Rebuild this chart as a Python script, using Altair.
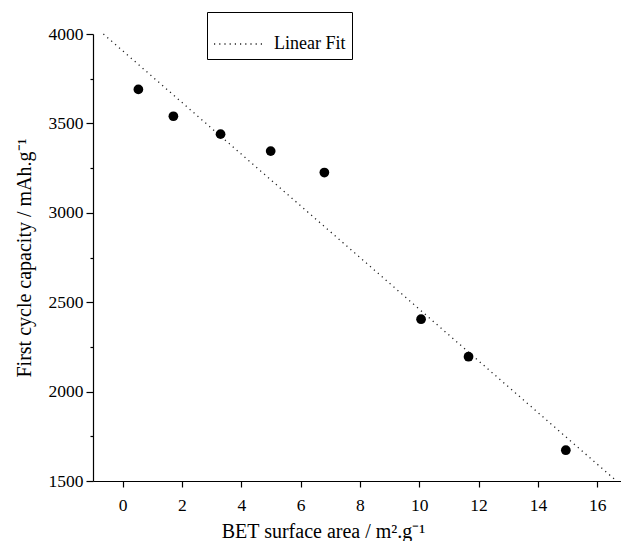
import altair as alt
import pandas as pd

# Data
bet_area = [0.53, 1.71, 3.30, 4.99, 6.80, 10.06, 11.66, 14.94]
capacity = [3690, 3540, 3440, 3345, 3225, 2405, 2195, 1672]
fit_x = [-0.65, 16.67]
fit_y = [4000, 1497]
fit_name = ["Linear Fit", "Linear Fit"]
x_ticks = list(range(0, 17))
y_ticks = list(range(1500, 4001, 250))

pts = pd.DataFrame({"x": bet_area, "y": capacity})
fit = pd.DataFrame({"x": fit_x, "y": fit_y, "s": fit_name})

FONT = "Liberation Serif"
xscale = alt.Scale(domain=[-1, 16.8], nice=False, zero=False)
yscale = alt.Scale(domain=[1500, 4000], nice=False, zero=False)

xaxis = alt.Axis(
    values=x_ticks,
    labelExpr="datum.value % 2 == 0 ? datum.label : ''",
    tickSize={"condition": {"test": "datum.value % 2 != 0", "value": 3}, "value": 6},
    title="BET surface area / m².g⁻¹",
    titleX=230,
    titlePadding=8,
    labelPadding=9,
)
yaxis = alt.Axis(
    values=y_ticks,
    format="d",
    labelExpr="datum.value % 500 == 0 ? datum.label : ''",
    tickSize={"condition": {"test": "datum.value % 500 != 0", "value": 3}, "value": 7},
    title="First cycle capacity / mAh.g⁻¹",
    titlePadding=14,
    labelPadding=3,
)

line = alt.Chart(fit).mark_line(strokeDash=[1.2, 4], strokeWidth=1.3).encode(
    x=alt.X("x:Q", scale=xscale, axis=xaxis),
    y=alt.Y("y:Q", scale=yscale, axis=yaxis),
    color=alt.Color(
        "s:N",
        scale=alt.Scale(range=["#222222"]),
        legend=alt.Legend(
            title=None,
            orient="none",
            legendX=114,
            legendY=-22,
            symbolType="stroke",
            symbolSize=2500,
            symbolStrokeWidth=1.3,
            symbolDash=[1.2, 4],
            labelFont=FONT,
            labelFontSize=18,
            labelColor="black",
            labelOffset=9,
            padding=6,
            strokeColor="black",
            fillColor="white",
        ),
    ),
)

points = alt.Chart(pts).mark_point(filled=True, color="black", opacity=1, size=95, shape="circle").encode(
    x=alt.X("x:Q", scale=xscale),
    y=alt.Y("y:Q", scale=yscale),
)

chart = (
    alt.layer(line, points)
    .properties(
        width=528,
        height=447,
        autosize=alt.AutoSizeParams(type="none"),
        padding={"left": 93, "top": 34, "right": 0, "bottom": 60},
        background="white",
    )
    .configure_view(stroke=None)
    .configure_axis(
        grid=False,
        domainColor="black",
        domainWidth=1.2,
        tickColor="black",
        tickWidth=1.2,
        labelFont=FONT,
        labelFontSize=17.5,
        labelColor="black",
        titleFont=FONT,
        titleFontSize=20,
        titleFontWeight="normal",
        titleColor="black",
    )
)

chart.save("out.html", embed_options={"renderer": "svg", "actions": False})
